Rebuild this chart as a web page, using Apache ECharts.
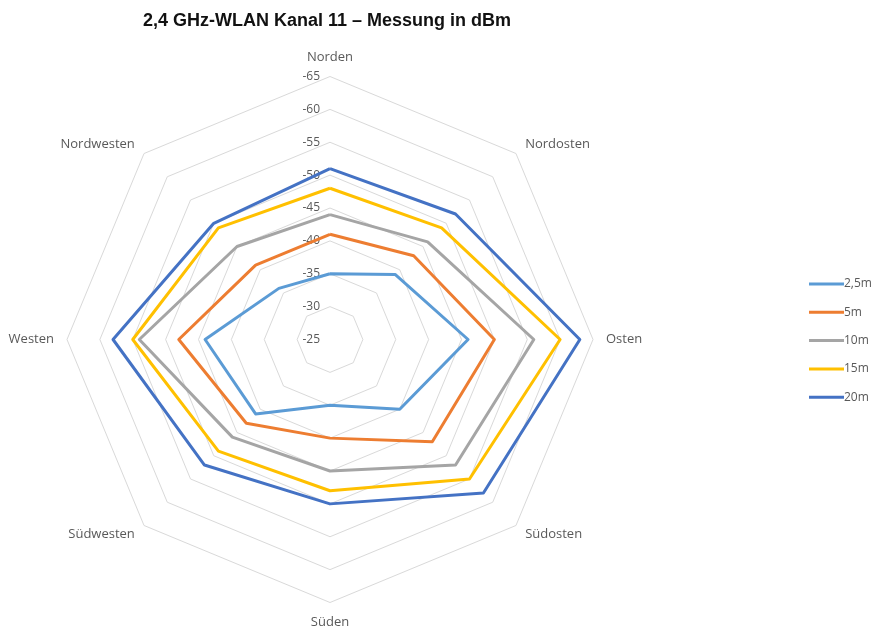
<!DOCTYPE html>
<html>
<head>
<meta charset="utf-8">
<script src="https://cdn.jsdelivr.net/npm/echarts@6/dist/echarts.min.js"></script>
<style>
  html, body { margin: 0; padding: 0; background: #fff; }
  #chart { width: 873px; height: 632px; }
</style>
</head>
<body>
<div id="chart"></div>
<script>
// Compass directions, clockwise from north
const directions = ['Norden', 'Nordosten', 'Osten', 'Südosten', 'Süden', 'Südwesten', 'Westen', 'Nordwesten'];

// Signal strength in dBm per distance, same order as directions
const dbm_2_5m = [-35, -39, -46, -40, -35, -41, -44, -36];
const dbm_5m   = [-41, -43, -50, -47, -40, -43, -48, -41];
const dbm_10m  = [-44, -46, -56, -52, -45, -46, -54, -45];
const dbm_15m  = [-48, -49, -60, -55, -48, -49, -55, -49];
const dbm_20m  = [-51, -52, -63, -58, -50, -52, -58, -50];

const seriesNames = ['2,5m', '5m', '10m', '15m', '20m'];
const seriesValues = [dbm_2_5m, dbm_5m, dbm_10m, dbm_15m, dbm_20m];
const seriesColors = ['#5B9BD5', '#ED7D31', '#A5A5A5', '#FFC000', '#4472C4'];

// Axis runs from -25 dBm at the centre to -65 dBm at the rim, step 5
const axisInner = -25;
const axisOuter = -65;
const axisStep = 5;

// The radar lays indicators out counter-clockwise, so walk the compass backwards
const order = [0, 7, 6, 5, 4, 3, 2, 1];

const labelColor = '#595959';
const fontFamily = '"Open Sans", "Liberation Sans", sans-serif';

const indicators = order.map((i, k) => {
  const ind = { name: directions[i], min: -axisInner, max: -axisOuter };
  if (k === 0) {
    ind.axisLabel = {
      show: true,
      color: labelColor,
      fontSize: 12,
      fontFamily: fontFamily,
      margin: 10,
      formatter: v => '-' + v
    };
  }
  return ind;
});

const chart = echarts.init(document.getElementById('chart'), null, { renderer: 'canvas' });

chart.setOption({
  animation: false,
  backgroundColor: '#ffffff',
  title: {
    text: '2,4 GHz-WLAN Kanal 11 – Messung in dBm',
    left: 138,
    top: 7,
    textStyle: {
      fontFamily: '"Liberation Sans", Arial, sans-serif',
      fontWeight: 'bold',
      fontSize: 18,
      color: '#111111'
    }
  },
  legend: {
    orient: 'vertical',
    left: 804,
    top: 273,
    icon: 'rect',
    itemWidth: 35,
    itemHeight: 3,
    itemGap: 16.3,
    data: seriesNames,
    textStyle: { color: labelColor, fontSize: 12, fontFamily: fontFamily, padding: [0, 0, 0, -5] }
  },
  radar: {
    center: [330, 339.5],
    radius: 263,
    startAngle: 90,
    shape: 'polygon',
    splitNumber: (axisInner - axisOuter) / axisStep,
    indicator: indicators,
    nameGap: 13,
    axisName: { color: labelColor, fontSize: 13, fontFamily: fontFamily },
    axisLine: { show: false },
    axisTick: { show: false },
    axisLabel: { show: false },
    splitArea: { show: false },
    splitLine: { lineStyle: { color: '#d9d9d9', width: 1 } }
  },
  series: [{
    type: 'radar',
    symbol: 'none',
    data: seriesNames.map((name, s) => ({
      name: name,
      value: order.map(i => -seriesValues[s][i]),
      lineStyle: { color: seriesColors[s], width: 3 },
      itemStyle: { color: seriesColors[s] }
    }))
  }]
});
</script>
</body>
</html>
